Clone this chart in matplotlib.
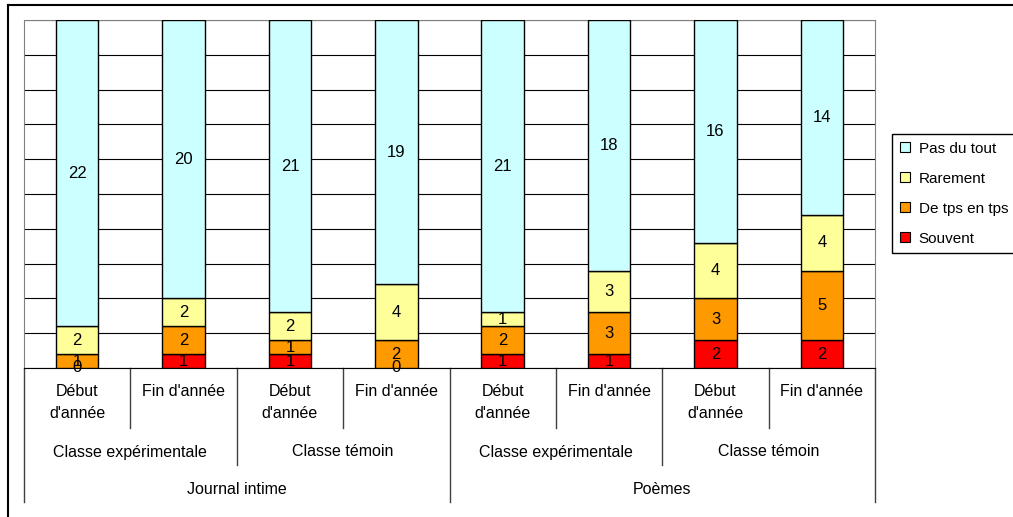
import numpy as np
import matplotlib
matplotlib.use("Agg")
import matplotlib.pyplot as plt
from matplotlib.lines import Line2D
from matplotlib.transforms import blended_transform_factory

plt.rcParams['font.family'] = ['Liberation Sans', 'DejaVu Sans']

# donnees
periodes = ["Début\nd'année", "Fin d'année"] * 4
classes = ["Classe expérimentale", "Classe témoin"] * 2
genres = ["Journal intime", "Poèmes"]

souvent = [0, 1, 1, 0, 1, 1, 2, 2]
de_tps = [1, 2, 1, 2, 2, 3, 3, 5]
rarement = [2, 2, 2, 4, 1, 3, 4, 4]
pas_du_tout = [22, 20, 21, 19, 21, 18, 16, 14]

series = [("Souvent", souvent, "#FF0000"),
          ("De tps en tps", de_tps, "#FF9900"),
          ("Rarement", rarement, "#FFFF99"),
          ("Pas du tout", pas_du_tout, "#CCFFFF")]

W, H = 1013, 517
fig = plt.figure(figsize=(W / 100, H / 100), dpi=100)
ax = fig.add_axes([24 / W, 1 - 368 / H, (875 - 24) / W, (368 - 20) / H])

x = np.arange(len(periodes))
total = np.sum([s[1] for s in series], axis=0)[0]
bas = np.zeros(len(x))
handles = []
for nom, vals, col in series:
    vals = np.array(vals, dtype=float)
    b = ax.bar(x, vals, 0.4, bottom=bas, color=col, edgecolor="black",
               linewidth=1.0, label=nom, zorder=3)
    handles.append(b)
    for xi, yi, v in zip(x, bas, vals):
        ax.text(xi, yi + v / 2, f"{int(v)}", ha="center", va="center",
                fontsize=12, zorder=4)
    bas += vals

ax.set_xlim(-0.5, len(x) - 0.5)
ax.set_ylim(0, total)
ax.set_yticks(np.linspace(0, total, 11))
ax.yaxis.grid(True, color="black", linewidth=0.8, zorder=0)
ax.tick_params(left=False, bottom=False, labelleft=False, labelbottom=False)
for s in ["left", "right", "top"]:
    ax.spines[s].set_color("#808080")
ax.spines["bottom"].set_color("black")

# axe des categories a plusieurs niveaux
tr = blended_transform_factory(ax.transData, fig.transFigure)
def fy(py):
    return 1 - py / H

for xi, lab in zip(x, periodes):
    for j, ligne in enumerate(lab.split("\n")):
        ax.text(xi, fy(391 + 22 * j), ligne, ha="center", va="center",
                fontsize=11.5, transform=tr)
for i, lab in enumerate(classes):
    ax.text(2 * i + 0.5, fy(452), lab, ha="center", va="center",
            fontsize=11.5, transform=tr)
for i, lab in enumerate(genres):
    ax.text(4 * i + 1.5, fy(490), lab, ha="center", va="center",
            fontsize=11.5, transform=tr)

for k in range(len(x) + 1):
    xs = k - 0.5
    if k % 4 == 0:
        y2 = 502
    elif k % 2 == 0:
        y2 = 465
    else:
        y2 = 428
    ax.add_line(Line2D([xs, xs], [fy(368), fy(y2)], color="#404040",
                       linewidth=1.0, transform=tr, clip_on=False))

# legende
leg = fig.legend(handles=handles[::-1], loc="upper left",
                 bbox_to_anchor=(892 / W, 1 - 134 / H), fontsize=11,
                 frameon=True, fancybox=False, framealpha=1,
                 handlelength=0.65, handleheight=0.65, handletextpad=0.6,
                 labelspacing=1.05, borderpad=0.5, borderaxespad=0)
leg.get_frame().set_edgecolor("black")
leg.get_frame().set_linewidth(1.0)
for p in leg.get_patches():
    p.set_linewidth(0.8)

# cadre exterieur
fig.add_artist(Line2D([8 / W, 1.0], [fy(5), fy(5)], color="black", linewidth=1.5))
fig.add_artist(Line2D([8 / W, 8 / W], [0, fy(5)], color="black", linewidth=1.5))

plt.savefig("out.png", dpi=100)
plt.close()
